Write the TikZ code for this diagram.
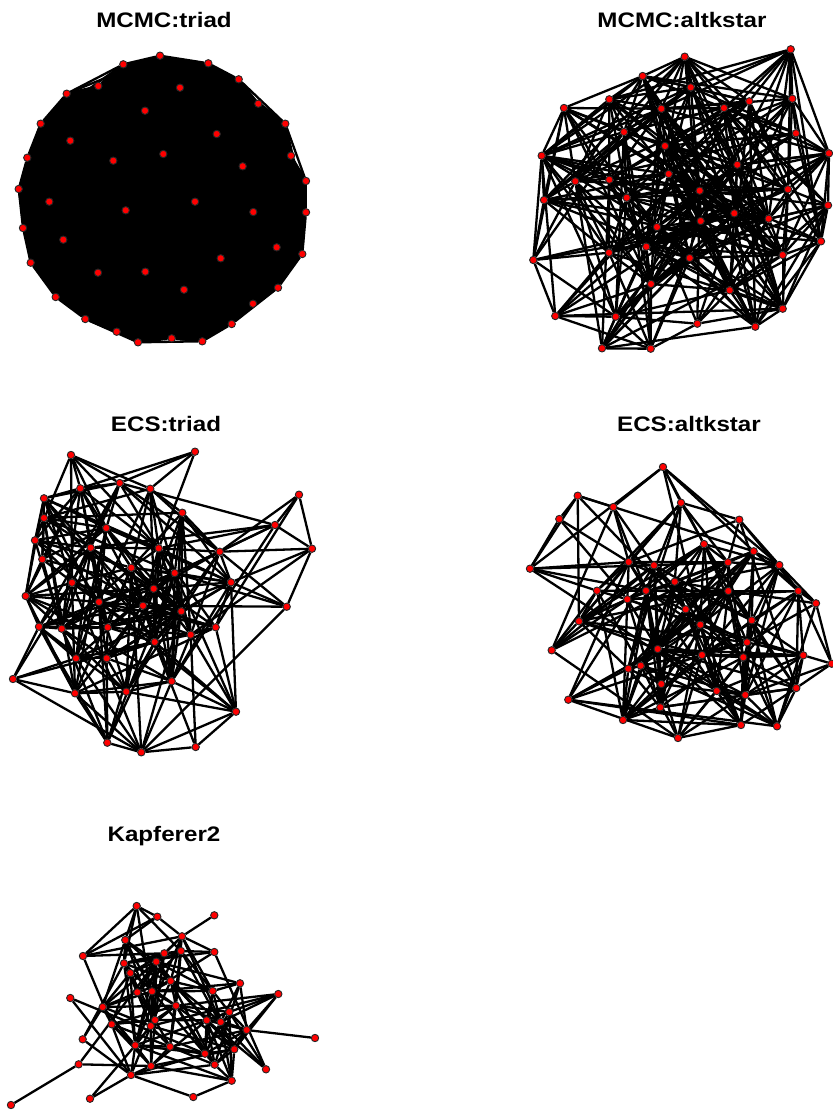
\documentclass[tikz,border=0pt]{standalone}
\usepackage{fontspec}
\setmainfont{Liberation Sans}
\pgfdeclarelayer{edges}
\pgfsetlayers{edges,main}
\tikzset{
  vert/.style={circle,fill=red,draw=black!85,line width=0.9pt,minimum size=7.4pt,inner sep=0pt},
  edge/.style={draw=black,line width=2.3pt},
  paneltitle/.style={font=\bfseries\fontsize{21}{25}\selectfont,anchor=base,xscale=1.15,inner sep=0pt}
}
% vertex coordinates, one pair of arrays per network (pixel units, y downwards)
\def\PAx{{160,208.3,238.7,258.3,285.3,291,306,306,302.3,278,253,231.7,202.3,171.7,138,116.7,85.3,55.7,30.7,23,18.7,27.3,40.7,66.7,98.3,123.3,180,145,216.7,70.3,163.3,113.3,242.7,49.3,195,125.7,253.3,63.3,276.7,220.7,98,145.3,184}}
\def\PAy{{55.7,63.3,79.3,103.7,123.7,155.7,181,212.3,254,287.7,303.7,324,341.3,338.3,342.3,331.7,319,297,262.7,228,189,157.7,123.7,93.7,86,64.3,87.7,110.7,134,140.7,154,160.7,166.3,201.7,201.7,210.3,212,239.7,247.3,258.3,272.7,271.7,289.7}}
\def\PBx{{790.7,684.7,642.7,690.7,609.3,749.3,792.3,564,661.3,724,624,796,665,541.7,829,737.3,668.7,575.3,609.3,699.7,788,544,626.7,828,734.3,768.7,700.7,657,821,609,646.3,782.7,689.7,533.3,651,729.7,782.7,555.3,615.7,697.3,755.3,602,650.7}}
\def\PBy{{49.3,56.7,76,87.3,99.3,101.3,98.7,108,108.7,108,132,133.3,146,155.7,153.3,164.7,174,181.3,179.7,190.7,189.3,200,197.7,205.3,213.3,218.7,221,227,241.3,252.7,246.7,255,258,260,284,290.3,308.7,316,316.7,323.7,326.7,348.3,348.7}}
\def\PCx{{71,195,119.7,80.3,150.3,44,299,44,182.3,106.3,275,35,90.7,158.7,219.7,312,42.3,131.3,174.7,72,231,153.7,25.7,99,143,181.3,286.7,39,61.7,107.7,215.7,190.7,154.7,76,106.7,13,171.7,75,126.3,236,107.3,141.3,195.7}}
\def\PCy{{455,451.7,483,488.3,488.7,498.3,494.7,518,512.7,528,525,540.3,547.7,548.3,551.7,548.7,559.3,567.7,573,582.7,582.3,588.7,596,602,605.7,611.3,606.7,626.7,628.7,627.3,627.3,634.7,642,658.3,658.3,679,681.3,693.3,691.7,711.7,742.7,752.3,747}}
\def\PDx{{663,577.7,681,613.3,559.3,739.3,704,753.7,530,628.7,654,728,779.3,674.7,597,646,728.3,798.3,627.3,816,685.7,579,751.7,700.3,747,551.7,657.7,702,743.3,803.3,831.7,628.3,640.7,661.3,716.7,745.3,796.3,568.3,660.3,623,741,777,678}}
\def\PDy{{467,495.7,502.7,507,519,519.7,544,551.3,568.7,562,565.3,562.3,565,581.7,590.7,590.7,591,591,599.3,603.3,609.3,621.3,620.3,624.7,642.3,650.3,649,655,657.3,655.3,663.7,668.7,665.7,684,691,695,688,699.7,707.3,720,725,726.3,738}}
\def\PEx{{136.7,157.3,214.3,182,125.3,214.3,181,164.3,83,156.3,124,130.3,170.7,240,137.3,152,212.7,278.3,70.3,102.7,176,229.3,155,206.7,220.7,111.7,150.7,246.7,315,82.7,135.3,170,234.3,205,78.7,151,214.7,266,131,231.7,90,193.3,11}}
\def\PEy{{906,916.7,915.3,936.3,940,952,951,953.3,956,961.7,963.3,973,981,983.3,992.3,991.3,991,994,998,1007,1005.7,1012,1020,1020.3,1022,1024.3,1026,1030,1038,1039.3,1045.3,1046.7,1049.3,1053.7,1064.3,1066,1064.7,1069.3,1075,1080.7,1098.7,1097,1105}}
% vertex weights scaling the tie probability
\def\Wone{{1,1,1,1,1,1,1,1,1,1,1,1,1,1,1,1,1,1,1,1,1,1,1,1,1,1,1,1,1,1,1,1,1,1,1,1,1,1,1,1,1,1,1}}
\def\WE{{0.8,0.8,0.5,1,1,0.7,1,1,0.6,1,1,1,1,0.8,1,1,1,0.6,0.5,1,1,1,1,1,1,1,1,1,0,0.7,1,1,1,1,0.6,1,1,0.7,1,0.8,0.6,0.6,0}}
% #1 name prefix, #2/#3 coordinate arrays, #4 peak tie probability,
% #5 distance scale, #6 weight array
\newcommand\drawnet[6]{%
  \foreach \i in {0,...,42}{%
    \pgfmathsetmacro\vx{#2[\i]}%
    \pgfmathsetmacro\vy{#3[\i]}%
    \pgfmathsetmacro\vw{#6[\i]}%
    \expandafter\xdef\csname #1x\i\endcsname{\vx}%
    \expandafter\xdef\csname #1y\i\endcsname{\vy}%
    \expandafter\xdef\csname #1w\i\endcsname{\vw}%
    \node[vert] (#1\i) at (\vx,\vy) {};
  }
  \begin{pgfonlayer}{edges}
  \foreach \i in {0,...,41}{%
    \edef\xa{\csname #1x\i\endcsname}%
    \edef\ya{\csname #1y\i\endcsname}%
    \edef\wa{\csname #1w\i\endcsname}%
    \pgfmathtruncatemacro\jfirst{\i+1}%
    \foreach \j in {\jfirst,...,42}{%
      \edef\xb{\csname #1x\j\endcsname}%
      \edef\yb{\csname #1y\j\endcsname}%
      \edef\wb{\csname #1w\j\endcsname}%
      \pgfmathsetmacro\ux{(\xa-\xb)/#5}%
      \pgfmathsetmacro\uy{(\ya-\yb)/#5}%
      \pgfmathsetmacro\pp{#4*\wa*\wb*exp(-(\ux*\ux+\uy*\uy))}%
      \pgfmathsetmacro\rr{rnd}%
      \ifdim\rr pt<\pp pt \draw[edge] (#1\i) -- (#1\j);\fi
    }
  }
  \end{pgfonlayer}
}
\begin{document}
\begin{tikzpicture}[x=1pt,y=-1pt]
\useasboundingbox (0,0) rectangle (833,1112);
\pgfmathsetseed{2718}

\node[paneltitle] (tA) at (164,27.3) {MCMC:triad};
\node[paneltitle] (tB) at (682,27.3) {MCMC:altkstar};
\node[paneltitle] (tC) at (166,431.7) {ECS:triad};
\node[paneltitle] (tD) at (689,431.7) {ECS:altkstar};
\node[paneltitle] (tE) at (164,841.7) {Kapferer2};

\drawnet{A}{\PAx}{\PAy}{1}{5000}{\Wone}
\drawnet{B}{\PBx}{\PBy}{0.8}{170}{\Wone}
\drawnet{C}{\PCx}{\PCy}{0.9}{110}{\Wone}
\drawnet{D}{\PDx}{\PDy}{0.72}{125}{\Wone}
\drawnet{E}{\PEx}{\PEy}{0.85}{75}{\WE}

% the complete triad graph: its overlapping ties cover the whole rim
\begin{pgfonlayer}{edges}
\fill[black] (A0.center) \foreach \k in {1,...,25}{ -- (A\k.center)} -- cycle;
% pendant ties of the Kapferer network
\draw[edge] (E42) -- (E34);
\draw[edge] (E28) -- (E27);
\end{pgfonlayer}
\end{tikzpicture}
\end{document}
